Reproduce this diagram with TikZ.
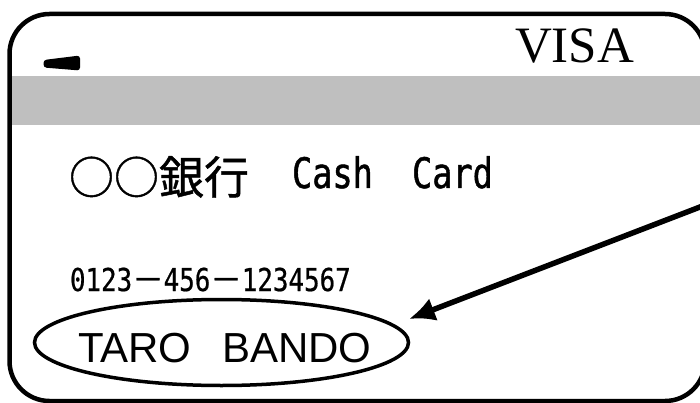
\documentclass[tikz,border=0pt]{standalone}
\usepackage{fontspec}
\usetikzlibrary{shapes.geometric,arrows.meta}
\newfontfamily\cjkfont[FakeBold=1]{Noto Sans CJK JP}
\newfontfamily\cardmono[FakeStretch=0.8,FakeBold=1]{DejaVu Sans Mono}
\newfontfamily\nummono[FakeStretch=0.82,FakeBold=0.6]{DejaVu Sans Mono}
\newfontfamily\visafont{Liberation Serif}
\newfontfamily\namefont{Liberation Sans}
\definecolor{stripe}{HTML}{BFBFBF}
\tikzset{
  txt/.style={inner sep=0pt, outer sep=0pt},
  cardedge/.style={line width=4.5pt, rounded corners=40pt},
  pointer/.style={line width=5.5pt, -{Latex[length=26pt,width=24pt]}},
}
\begin{document}
\begin{tikzpicture}[x=1pt,y=-1pt]
\useasboundingbox (0,0) rectangle (700,403);
\clip (0,0) rectangle (700,403);
\fill[stripe] (9,76) rectangle (710,125);
\draw[cardedge] (9.5,14) rectangle (705,401);
\fill[rounded corners=3pt] (43.5,60) -- (80,55.5) -- (80,70.5) -- (43.5,67.5) -- cycle;
\node[txt, font=\visafont\fontsize{51}{51}\selectfont, anchor=base east] (visa) at (634,63) {VISA};
\node[txt, font=\cjkfont\fontsize{45}{45}\selectfont, anchor=base west] (bank) at (69,194) {○○銀行};
\node[txt, font=\cardmono\fontsize{42}{42}\selectfont, anchor=base west] (cash) at (292,188) {Cash};
\node[txt, font=\cardmono\fontsize{42}{42}\selectfont, anchor=base west] (card) at (412,188) {Card};
\node[txt, font=\nummono\fontsize{31.5}{31.5}\selectfont, anchor=base west] (num) at (70,291) {0123{\cjkfont －}456{\cjkfont －}1234567};
\node[ellipse, draw, line width=3.5pt, minimum width=374pt, minimum height=86pt, inner sep=0pt] (oval) at (221.5,342.5) {};
\node[txt, font=\namefont\fontsize{42}{42}\selectfont, anchor=base west] (taro) at (78,362) {TARO};
\node[txt, font=\namefont\fontsize{42}{42}\selectfont, anchor=base west] (bando) at (222,362) {BANDO};
\coordinate (astart) at (720,199.3);
\coordinate (atip) at (409,319);
\draw[pointer] (astart) -- (atip);
\end{tikzpicture}
\end{document}
